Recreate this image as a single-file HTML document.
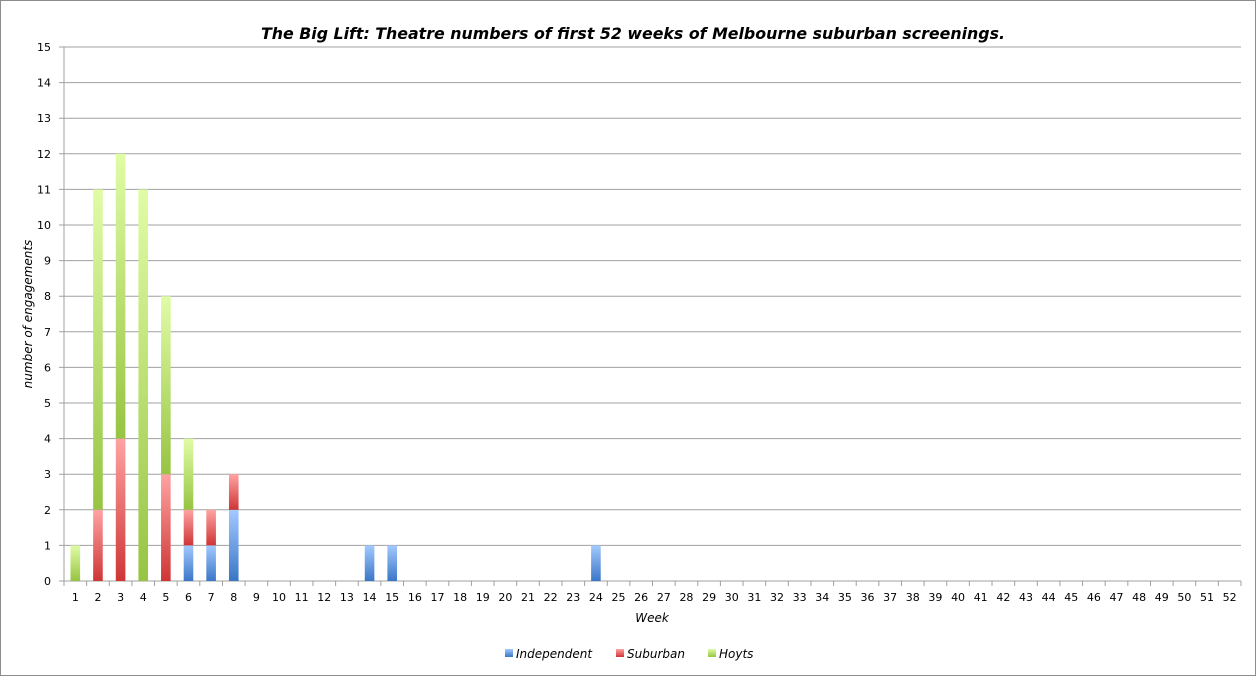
<!DOCTYPE html>
<html><head><meta charset="utf-8"><style>
body{margin:0;background:#fff}
svg{display:block;font-family:"DejaVu Sans","Liberation Sans",sans-serif}
</style></head><body>
<svg id="s" width="1256" height="676" xmlns="http://www.w3.org/2000/svg">
<defs>
<linearGradient id="gH" x1="0" y1="0" x2="0" y2="1"><stop offset="0" stop-color="#e0fca6"/><stop offset="1" stop-color="#97c442"/></linearGradient>
<linearGradient id="gS" x1="0" y1="0" x2="0" y2="1"><stop offset="0" stop-color="#ffa3a3"/><stop offset="1" stop-color="#cf3535"/></linearGradient>
<linearGradient id="gI" x1="0" y1="0" x2="0" y2="1"><stop offset="0" stop-color="#a3c9ff"/><stop offset="1" stop-color="#3a76c6"/></linearGradient>
</defs>
<rect x="0.5" y="0.5" width="1255" height="675" fill="#fff" stroke="#8c8c8c"/>
<text x="633" y="39" text-anchor="middle" font-size="16" font-weight="bold" font-style="italic" textLength="744" lengthAdjust="spacingAndGlyphs">The Big Lift: Theatre numbers of first 52 weeks of Melbourne suburban screenings.</text>
<g id="g"></g>
<text transform="translate(32,314) rotate(-90)" text-anchor="middle" font-size="12" font-style="italic">number of engagements</text>
<text x="652" y="622" text-anchor="middle" font-size="12" font-style="italic">Week</text>
<rect x="505" y="649" width="8" height="8" fill="url(#gI)"/><text x="516" y="658" font-size="12" font-style="italic">Independent</text>
<rect x="616" y="649" width="8" height="8" fill="url(#gS)"/><text x="627" y="658" font-size="12" font-style="italic">Suburban</text>
<rect x="708" y="649" width="8" height="8" fill="url(#gH)"/><text x="719" y="658" font-size="12" font-style="italic">Hoyts</text>
</svg>
<script>
var g=document.getElementById('g'),h='';
var X0=64,X1=1241,Y0=581,U=(581-47)/15,C=(X1-X0)/52;
for(var i=0;i<=15;i++){var y=Y0-i*U;h+='<line x1="'+(X0-5)+'" x2="'+X1+'" y1="'+y+'" y2="'+y+'" stroke="#a0a0a0"/>';h+='<text x="51" y="'+(y+4)+'" text-anchor="end" font-size="11">'+i+'</text>';}
h+='<line x1="'+X0+'" x2="'+X0+'" y1="47" y2="'+(Y0+5)+'" stroke="#a0a0a0"/>';
for(var k=0;k<=52;k++){var x=X0+k*C;h+='<line x1="'+x+'" x2="'+x+'" y1="'+Y0+'" y2="'+(Y0+5)+'" stroke="#a0a0a0"/>';if(k<52)h+='<text x="'+(x+C/2)+'" y="'+(Y0+20)+'" text-anchor="middle" font-size="11">'+(k+1)+'</text>';}
var d={1:[0,0,1],2:[0,2,9],3:[0,4,8],4:[0,0,11],5:[0,3,5],6:[1,1,2],7:[1,1,0],8:[2,1,0],14:[1,0,0],15:[1,0,0],24:[1,0,0]};
var f=['gI','gS','gH'];
for(var w in d){var v=d[w],b=0,cx=X0+(w-0.5)*C;for(var j=0;j<3;j++){if(!v[j])continue;var yt=Y0-(b+v[j])*U;h+='<rect x="'+(cx-4.8)+'" y="'+yt+'" width="9.6" height="'+(v[j]*U)+'" fill="url(#'+f[j]+')"/>';b+=v[j];}}
g.innerHTML=h;
</script>
</body></html>
